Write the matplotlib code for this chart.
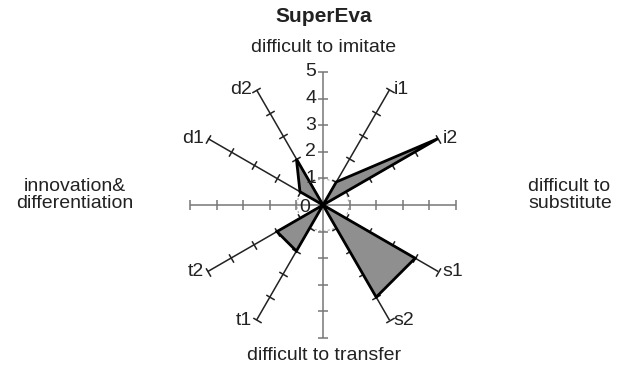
import numpy as np
import matplotlib.pyplot as plt

plt.rcParams['font.family'] = ['Liberation Sans', 'DejaVu Sans']

# spokes clockwise from the top
categories = ['difficult to imitate', 'i1', 'i2', 'difficult to substitute', 's1', 's2',
              'difficult to transfer', 't1', 't2', 'innovation& differentiation', 'd1', 'd2']
values = [0, 1, 5, 0, 4, 4, 0, 2, 2, 0, 1, 2]
scale_ticks = [0, 1, 2, 3, 4, 5]

n = len(categories)
theta = np.deg2rad(np.arange(n) * 360 / n)

fig = plt.figure(figsize=(6.21, 3.73), dpi=100)
ax = fig.add_axes([190 / 621, 35 / 373, 266 / 621, 266 / 373], projection='polar')
ax.set_theta_zero_location('N')
ax.set_theta_direction(-1)
ax.set_ylim(0, 5)
ax.set_axis_off()

fs = 14

# faint dashed gridline at 1
gt = np.append(theta, theta[0])
ax.plot(gt, np.ones(len(gt)), color='#aaaaaa', lw=0.8, ls=(0, (2, 2)), zorder=1)

# spokes with cross ticks
r_ticks = np.array(scale_ticks[1:])
for i, th in enumerate(theta):
    cardinal = i % 3 == 0
    col = '#777777' if cardinal else '#222222'
    ax.plot([th, th], [0, 5], color=col, lw=1.1, zorder=2)
    ang = 90 - np.rad2deg(th)
    ax.plot(np.full(len(r_ticks), th), r_ticks, ls='none',
            marker=(2, 0, ang), markersize=7, markeredgewidth=1.1,
            markeredgecolor=col, zorder=2, clip_on=False)

# data polygon
vt = np.append(theta, theta[0])
vv = np.append(values, values[0])
ax.fill(vt, vv, facecolor='#8f8f8f', edgecolor='black', lw=2.0, zorder=3)

# scale labels on the top spoke
for r in scale_ticks:
    ax.annotate(str(r), (0, r), xytext=(-5 if r else -9, 0 if r else -2),
                textcoords='offset points',
                ha='right', va='center', fontsize=fs, color='#222222')

# spoke names
for i, th in enumerate(theta):
    if i % 3 == 0:
        continue
    right = np.sin(th) > 0
    ax.annotate(categories[i], (th, 5), xytext=(3 if right else -3, 0),
                textcoords='offset points', ha='left' if right else 'right',
                va='center', fontsize=fs, color='#222222', annotation_clip=False)

fig.text(324 / 621, 1 - 17 / 373, 'SuperEva', ha='center', va='center',
         fontsize=15, fontweight='bold', color='#222222')
fig.text(324 / 621, 1 - 48 / 373, categories[0], ha='center', va='center',
         fontsize=fs, color='#222222')
fig.text(528 / 621, 1 - 195 / 373, 'difficult to\nsubstitute', ha='left', va='center',
         fontsize=fs, color='#222222', linespacing=1.05, multialignment='left')
fig.text(324 / 621, 1 - 356 / 373, categories[6], ha='center', va='center',
         fontsize=fs, color='#222222')
fig.text(75 / 621, 1 - 195 / 373, 'innovation&\ndifferentiation', ha='center', va='center',
         fontsize=fs, color='#222222', linespacing=1.05)

fig.savefig('out.png', dpi=100)
